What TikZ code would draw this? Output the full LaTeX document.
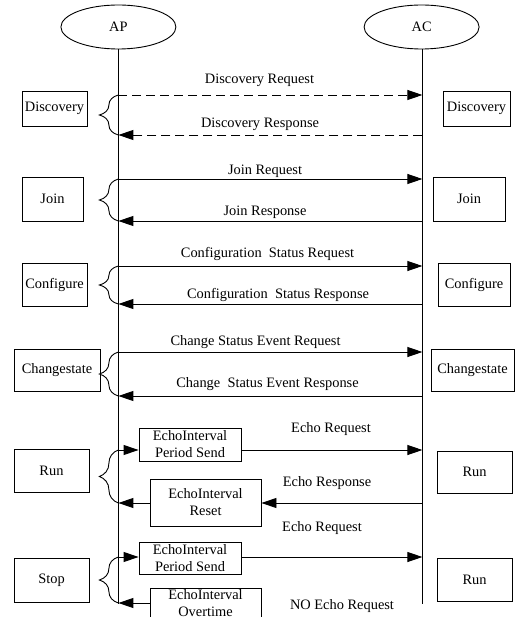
\documentclass[tikz,border=0pt]{standalone}
\usepackage{fontspec}
\setmainfont{Liberation Serif}
\usetikzlibrary{arrows.meta,decorations.pathreplacing,shapes.geometric}
\begin{document}
\begin{tikzpicture}[x=1pt,y=-1pt,
  every node/.style={font=\fontsize{14.4}{17}\selectfont},
  line width=0.9pt,
  msg/.style={-{Triangle[length=15pt,width=10pt]}},
  dmsg/.style={msg, dash pattern=on 9pt off 5pt},
  lbl/.style={anchor=base, inner sep=0pt},
  sbox/.style={draw, inner sep=0pt, align=center},
  actor/.style={draw, ellipse, inner sep=0pt, minimum width=115pt, minimum height=44pt},
  grp/.style={decorate, decoration={brace, amplitude=19pt}}
]
\useasboundingbox (0,0) rectangle (515,617);
\clip (0,0) rectangle (515,617);

% actors and lifelines
\node[actor] (ap) at (118.4,27) {AP};
\node[actor] (ac) at (421.6,27) {AC};
\coordinate (apEnd) at (118.4,604);
\coordinate (acEnd) at (422.4,604);
\draw (ap.south) -- (apEnd);
\draw (ac.south -| acEnd) -- (acEnd);

% coordinates on lifelines
\foreach \n/\y in {a/95,b/135,c/179,d/221,e/266,f/304,g/352,h/396,i/450,j/503,k/557,l/603}{
  \coordinate (p\n) at (118.4,\y);
  \coordinate (q\n) at (422.4,\y);
}

% Discovery
\draw[dmsg] (pa) -- (qa);
\draw[dmsg] (qb) -- (pb);
\node[lbl] (l1) at (259.5,83.5) {Discovery Request};
\node[lbl] (l2) at (260,128) {Discovery Response};
\node[sbox, minimum width=65pt, minimum height=35pt] (lD) at (54.5,108.5) {Discovery};
\node[sbox, minimum width=67pt, minimum height=35pt] (rD) at (476.5,108.5) {Discovery};
\draw[grp] (pb) -- (pa);

% Join
\draw[msg] (pc) -- (qc);
\draw[msg] (qd) -- (pd);
\node[lbl] (l3) at (265,175) {Join Request};
\node[lbl] (l4) at (265,216) {Join Response};
\node[sbox, minimum width=61pt, minimum height=44pt] (lJ) at (52.5,199) {Join};
\node[sbox, minimum width=72pt, minimum height=44pt] (rJ) at (469,199) {Join};
\draw[grp] (pd) -- (pc);

% Configure
\draw[msg] (pe) -- (qe);
\draw[msg] (qf) -- (pf);
\node[lbl] (l5) at (267.5,257.5) {Configuration\ \ Status Request};
\node[lbl] (l6) at (278,298.5) {Configuration\ \ Status Response};
\node[sbox, minimum width=65pt, minimum height=43pt] (lC) at (54.5,284.5) {Configure};
\node[sbox, minimum width=72pt, minimum height=43pt] (rC) at (474,284.5) {Configure};
\draw[grp] (pf) -- (pe);

% Changestate
\draw[msg] (pg) -- (qg);
\draw[msg] (qh) -- (ph);
\node[lbl] (l7) at (255.5,345) {Change Status Event Request};
\node[lbl] (l8) at (267.5,387.5) {Change\ \ Status Event Response};
\node[sbox, minimum width=86pt, minimum height=42pt] (lS) at (57,370) {Changestate};
\node[sbox, minimum width=83pt, minimum height=42pt] (rS) at (472.5,370) {Changestate};
\draw[grp] (ph) -- (pg);

% Run
\node[sbox, minimum width=102pt, minimum height=33pt] (ps1) at (190,444.5) {EchoInterval\\Period Send};
\draw[msg] (pi) -- (ps1.west |- pi);
\draw[msg] (ps1.east |- qi) -- (qi);
\node[lbl] (l9) at (331,432) {Echo Request};
\node[sbox, minimum width=111pt, minimum height=47pt] (rs) at (205.5,502.5) {EchoInterval\\Reset};
\draw[msg] (qj) -- (rs.east |- qj);
\draw[msg] (rs.west |- pj) -- (pj);
\node[lbl] (l10) at (327,486.5) {Echo Response};
\node[sbox, minimum width=75pt, minimum height=43pt] (lR) at (51.5,470.5) {Run};
\node[sbox, minimum width=75pt, minimum height=42pt] (rR) at (474.5,472) {Run};
\draw[grp] (pj) -- (pi);

% Stop
\node[lbl] (l11) at (322,531.5) {Echo Request};
\node[sbox, minimum width=102pt, minimum height=32pt] (ps2) at (190,558) {EchoInterval\\Period Send};
\draw[msg] (pk) -- (ps2.west |- pk);
\draw[msg] (ps2.east |- qk) -- (qk);
\node[sbox, minimum width=111pt, minimum height=50pt] (ot) at (205.5,613) {};
\node[inner sep=0pt, align=center] (otx) at (205.5,603) {EchoInterval\\Overtime};
\draw[msg] (ot.west |- pl) -- (pl);
\node[lbl] (l12) at (342,609) {NO Echo Request};
\node[sbox, minimum width=75pt, minimum height=44pt] (lT) at (51.5,580) {Stop};
\node[sbox, minimum width=75pt, minimum height=43pt] (rT) at (474.5,579.5) {Run};
\draw[grp] (pl) -- (pk);
\end{tikzpicture}
\end{document}
